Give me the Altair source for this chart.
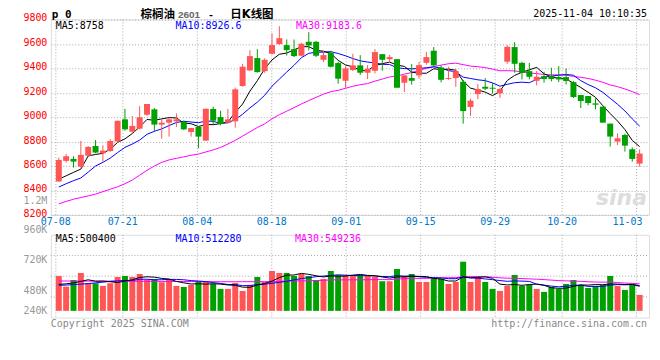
import altair as alt
import pandas as pd
import numpy as np

# ---------------- data ----------------
dates = ["07-08","07-09","07-10","07-11","07-14","07-15","07-16","07-17","07-18","07-21",
         "07-22","07-23","07-24","07-25","07-28","07-29","07-30","07-31","08-01","08-04",
         "08-05","08-06","08-07","08-08","08-11","08-12","08-13","08-14","08-15","08-18",
         "08-19","08-20","08-21","08-22","08-25","08-26","08-27","08-28","08-29","09-01",
         "09-02","09-03","09-04","09-05","09-08","09-09","09-10","09-11","09-12","09-15",
         "09-16","09-17","09-18","09-19","09-22","09-23","09-24","09-25","09-26","09-29",
         "09-30","10-09","10-10","10-13","10-14","10-15","10-16","10-17","10-20","10-21",
         "10-22","10-23","10-24","10-27","10-28","10-29","10-30","10-31","11-03","11-04"]

open_p = [8473, 8642, 8658, 8595, 8685, 8764, 8704, 8723, 8800, 8982,
          8881, 8906, 9020, 9064, 8939, 8955, 8966, 8963, 8879, 8920,
          8808, 9067, 9001, 8955, 8966, 9255, 9383, 9484, 9377, 9519,
          9598, 9590, 9557, 9503, 9617, 9617, 9470, 9527, 9443, 9298,
          9386, 9424, 9364, 9380, 9516, 9475, 9475, 9282, 9320, 9342,
          9445, 9544, 9407, 9312, 9320, 9290, 9083, 9189, 9249, 9241,
          9195, 9454, 9574, 9445, 9377, 9298, 9336, 9336, 9328, 9328,
          9287, 9181, 9173, 9113, 9086, 8947, 8800, 8854, 8737, 8620]
close_p = [8650, 8680, 8636, 8691, 8756, 8710, 8726, 8805, 8971, 8900,
           8928, 8999, 9108, 8939, 8955, 8982, 8982, 8900, 8911, 8841,
           9069, 8971, 8944, 8982, 9228, 9413, 9500, 9369, 9470, 9590,
           9647, 9549, 9500, 9601, 9587, 9503, 9508, 9413, 9315, 9399,
           9424, 9364, 9396, 9533, 9470, 9492, 9241, 9342, 9298, 9426,
           9492, 9424, 9306, 9320, 9377, 9050, 9135, 9230, 9233, 9233,
           9230, 9576, 9437, 9364, 9331, 9331, 9312, 9312, 9309, 9296,
           9165, 9132, 9116, 9102, 8955, 8841, 8827, 8767, 8658, 8702]
high_p = [8669, 8699, 8680, 8805, 8764, 8813, 8770, 8819, 8971, 9069,
          9009, 9091, 9108, 9075, 8982, 8996, 9031, 8971, 8911, 8928,
          9069, 9086, 9053, 9067, 9241, 9437, 9549, 9557, 9481, 9685,
          9745, 9636, 9636, 9609, 9696, 9625, 9544, 9544, 9454, 9418,
          9519, 9508, 9426, 9557, 9516, 9511, 9475, 9342, 9435, 9454,
          9533, 9574, 9424, 9413, 9396, 9304, 9151, 9271, 9320, 9282,
          9241, 9590, 9614, 9454, 9445, 9377, 9372, 9405, 9418, 9399,
          9296, 9181, 9173, 9154, 9086, 8947, 8868, 8865, 8753, 8737]
low_p = [8473, 8628, 8587, 8587, 8680, 8704, 8636, 8715, 8791, 8890,
         8873, 8900, 9009, 8887, 8824, 8841, 8920, 8895, 8841, 8745,
         8808, 8941, 8933, 8950, 8914, 9249, 9377, 9364, 9364, 9514,
         9593, 9505, 9492, 9497, 9546, 9492, 9451, 9407, 9274, 9241,
         9377, 9345, 9312, 9358, 9380, 9445, 9241, 9206, 9266, 9315,
         9429, 9413, 9285, 9306, 9249, 8947, 9010, 9148, 9222, 9192,
         9157, 9437, 9364, 9309, 9309, 9260, 9282, 9293, 9287, 9268,
         9157, 9075, 9097, 9064, 8955, 8759, 8772, 8718, 8636, 8595]
volume = [711000, 493000, 629000, 771000, 562000, 562000, 508000, 562000, 690000, 711000,
          690000, 751000, 629000, 650000, 583000, 629000, 508000, 487000, 528000, 609000,
          589000, 548000, 447000, 447000, 568000, 406000, 528000, 690000, 589000, 812000,
          771000, 771000, 711000, 751000, 711000, 629000, 650000, 812000, 725000, 725000,
          725000, 725000, 711000, 690000, 603000, 603000, 853000, 711000, 751000, 589000,
          589000, 664000, 650000, 548000, 589000, 1001000, 589000, 690000, 589000, 447000,
          406000, 508000, 731000, 508000, 528000, 447000, 386000, 487000, 447000, 548000,
          629000, 528000, 467000, 508000, 528000, 711000, 508000, 426000, 528000, 325000]

# moving-average values at the left edge (their windows reach before the first candle)
ma5_head = [8492, 8520, 8548, 8575]
ma10_head = [8428, 8455, 8480, 8502, 8550, 8600, 8630, 8665, 8710]
ma30_head = [8290, 8310, 8328, 8342, 8355, 8370, 8390, 8410, 8430, 8455,
             8485, 8525, 8565, 8600, 8630, 8650, 8663, 8675, 8688, 8698,
             8715, 8732, 8752, 8780, 8810, 8845, 8880, 8915, 8945]
vma5_head = [540000, 550000, 570000, 600000]
vma10_head = [520000, 525000, 535000, 545000, 555000, 570000, 585000, 600000, 610000]
vma30_head = [608000, 608000, 607000, 607000, 606000, 606000, 605000, 605000, 604000, 604000,
              603000, 603000, 602000, 601000, 600000, 599000, 598000, 597000, 596000, 595000,
              594000, 594000, 593000, 593000, 593000, 594000, 594000, 595000, 595000]

tick_labels = ["07-08", "07-21", "08-04", "08-18", "09-01", "09-15", "09-29", "10-20", "11-03"]
tick_index = [0, 9, 19, 29, 39, 49, 59, 68, 78]
price_ticks = [8200, 8400, 8600, 8800, 9000, 9200, 9400, 9600, 9800]
vol_label_text = ["1.2M", "960K", "720K", "480K", "240K"]

legend_price = ["MA5:8758", "MA10:8926.6", "MA30:9183.6"]
legend_vol = ["MA5:500400", "MA10:512280", "MA30:549236"]
title_parts = ["棕榈油", "2601", "-", "日K线图"]

# ---------------- styling ----------------
RED = "#FF5555"
GREEN = "#00A000"
GRID = "#aaaaaa"
MONO = "DejaVu Sans Mono"
CJK = "DejaVu Sans, Noto Sans CJK SC"
PW, PH, VH = 600, 196, 83
VOL_BASE = 76.3          # pixel row of zero volume inside the volume panel
VOL_PER_PX = 20300.0

N = len(dates)
df = pd.DataFrame({"i": range(N), "date": dates, "open": open_p, "high": high_p,
                   "low": low_p, "close": close_p, "vol": volume})
df["pos"] = df["i"] + 0.4
df["dir"] = np.where(df["close"] >= df["open"], "up", "down")


def moving(series, w, head):
    m = series.rolling(w).mean()
    m.iloc[:len(head)] = head
    return m


df["ma5"] = moving(df["close"], 5, ma5_head)
df["ma10"] = moving(df["close"], 10, ma10_head)
df["ma30"] = moving(df["close"], 30, ma30_head)
df["vma5"] = moving(df["vol"].astype(float), 5, vma5_head)
df["vma10"] = moving(df["vol"].astype(float), 10, vma10_head)
df["vma30"] = moving(df["vol"].astype(float), 30, vma30_head)

ticks = pd.DataFrame({"label": tick_labels,
                      "gpos": [k * N / (N - 1) for k in tick_index]})

xscale = alt.Scale(domain=[0, N], nice=False, zero=False)
pscale = alt.Scale(domain=[8200, 9800], nice=False, zero=False)
vscale = alt.Scale(domain=[0, VOL_BASE * VOL_PER_PX], range=[VOL_BASE, 0], nice=False, zero=False)
color = alt.Color("dir:N", scale=alt.Scale(domain=["up", "down"], range=[RED, GREEN]), legend=None)

paxis = alt.Axis(values=price_ticks, format="d", grid=True, gridColor=GRID, gridDash=[1, 2],
                 gridWidth=1, domain=False, ticks=False, labelColor="#ff0000", labelFont=MONO,
                 labelFontSize=10, labelPadding=4, labelOffset=-1.5, title=None, minExtent=0)


def txt(text, x, y, color="#000000", size=10, font=MONO, align="left",
        baseline="middle", weight="normal", **kw):
    return alt.Chart(pd.DataFrame({"t": [text]})).mark_text(
        align=align, baseline=baseline, color=color, fontSize=size, font=font,
        fontWeight=weight, **kw
    ).encode(text="t:N", x=alt.value(x), y=alt.value(y))


base = alt.Chart(df)
X = alt.X("pos:Q", scale=xscale, axis=None)

# ---------------- price panel ----------------
gridx = alt.Chart(ticks).mark_rule(color=GRID, strokeDash=[1, 2], strokeWidth=1).encode(
    x=alt.X("gpos:Q", scale=xscale, axis=None))
wick = base.mark_rule(strokeWidth=1).encode(
    x=X, y=alt.Y("low:Q", scale=pscale, axis=paxis), y2="high:Q", color=color)
body = base.mark_bar(size=6).encode(
    x=X, y=alt.Y("open:Q", scale=pscale, axis=paxis), y2="close:Q", color=color)
l5 = base.mark_line(color="#000000", strokeWidth=1, clip=True).encode(
    x=X, y=alt.Y("ma5:Q", scale=pscale, axis=paxis))
l10 = base.mark_line(color="#0000ff", strokeWidth=1, clip=True).encode(
    x=X, y=alt.Y("ma10:Q", scale=pscale, axis=paxis))
l30 = base.mark_line(color="#ff00ff", strokeWidth=1, clip=True).encode(
    x=X, y=alt.Y("ma30:Q", scale=pscale, axis=paxis))

xlab = alt.Chart(ticks.iloc[:-1]).mark_text(
    baseline="top", align="center", color="#0077C8", font=MONO, fontSize=10).encode(
    x=alt.X("gpos:Q", scale=xscale, axis=None), y=alt.value(PH + 2), text="label:N")
xlab_last = alt.Chart(ticks.iloc[-1:]).mark_text(
    baseline="top", align="right", dx=6, color="#0077C8", font=MONO, fontSize=10).encode(
    x=alt.X("gpos:Q", scale=xscale, axis=None), y=alt.value(PH + 2), text="label:N")

LEG_Y = 7.0
price = alt.layer(
    gridx, l30, l10, l5, wick, body, xlab, xlab_last,
    txt("sina", 598, 179, color="#dddddd", size=22, font="DejaVu Sans", align="right",
        weight="bold", fontStyle="italic"),
    txt(legend_price[0], 5, LEG_Y, color="#000000"),
    txt(legend_price[1], 125, LEG_Y, color="#0000ff"),
    txt(legend_price[2], 246, LEG_Y, color="#ff00ff"),
    txt("p 0", 1, -10.3, size=11, weight="bold", baseline="top"),
    txt(title_parts[0], 90, -10.0, size=11.5, font=CJK, weight="bold", baseline="top"),
    txt(title_parts[1], 127.5, -9.3, size=10, font="Liberation Sans", weight="bold",
        color="#666666", baseline="top"),
    txt(title_parts[2], 160.5, -9.5, size=9.5, font="DejaVu Sans", weight="bold",
        baseline="top", align="center"),
    txt(title_parts[3], 180, -10.0, size=11.5, font=CJK, weight="bold", baseline="top"),
    txt("2025-11-04 10:10:35", 598, -10.3, align="right", baseline="top"),
).properties(width=PW, height=PH)

# ---------------- volume panel ----------------
VX = alt.X("pos:Q", scale=xscale, axis=None)
gridx_v = alt.Chart(ticks).mark_rule(color=GRID, strokeDash=[1, 2], strokeWidth=1).encode(
    x=alt.X("gpos:Q", scale=xscale, axis=None))
hgrid = [alt.Chart(pd.DataFrame({"k": [k]})).mark_rule(color=GRID, strokeDash=[1, 2]).encode(
    x=alt.value(0), x2=alt.value(PW), y=alt.value(VH * k / 4)) for k in (1, 2, 3)]
vbars = base.mark_bar(size=6).encode(
    x=VX, y=alt.Y("vol:Q", scale=vscale, axis=None), y2=alt.datum(0), color=color)
v5 = base.mark_line(color="#000000", strokeWidth=1, clip=True).encode(
    x=VX, y=alt.Y("vma5:Q", scale=vscale, axis=None))
v10 = base.mark_line(color="#0000ff", strokeWidth=1, clip=True).encode(
    x=VX, y=alt.Y("vma10:Q", scale=vscale, axis=None))
v30 = base.mark_line(color="#ff00ff", strokeWidth=1, clip=True).encode(
    x=VX, y=alt.Y("vma30:Q", scale=vscale, axis=None))

vol_label_y = [-33.7, -4.7, 25.3, 56.3, 76.0]
vlabels = [txt(t, -3.5, yy, color="#999999", align="right")
           for t, yy in zip(vol_label_text, vol_label_y)]

vol = alt.layer(
    gridx_v, *hgrid, vbars, v30, v10, v5, *vlabels,
    txt(legend_vol[0], 5, 4, color="#000000"),
    txt(legend_vol[1], 125, 4, color="#0000ff"),
    txt(legend_vol[2], 245, 4, color="#ff00ff"),
    txt("Copyright 2025 SINA.COM", 0, 89.5, color="#888888"),
    txt("http://finance.sina.com.cn", 598, 89.5, color="#888888", align="right"),
).properties(width=PW, height=VH)

chart = alt.vconcat(price, vol, spacing=20, bounds="flush").properties(
    padding={"left": 14, "top": 0, "right": 2, "bottom": 2}
).configure_view(stroke="#999999", strokeWidth=1).configure(background="white")

chart.save("out.html", embed_options={"renderer": "svg", "actions": False})
